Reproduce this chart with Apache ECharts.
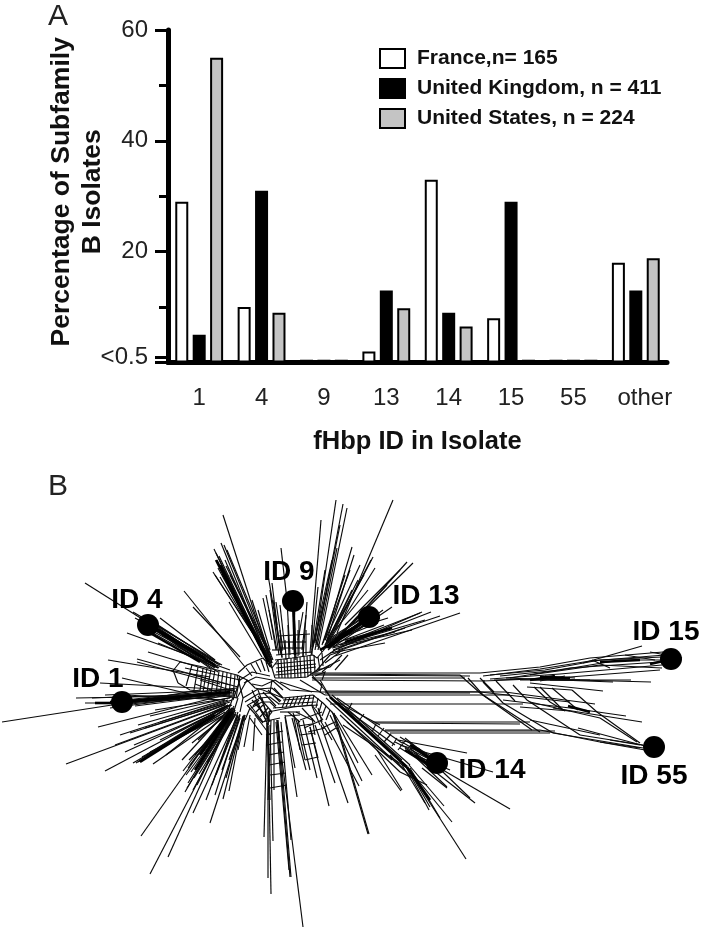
<!DOCTYPE html>
<html><head><meta charset="utf-8">
<style>html,body{margin:0;padding:0;background:#fff}#c{width:702px;height:930px}</style>
<script src="https://cdn.jsdelivr.net/npm/echarts@6/dist/echarts.min.js"></script>
</head><body><div id="c"></div>
<script>
const categories=['1','4','9','13','14','15','55','other'];
const france=[29,10,0.5,2,33,8,0.5,18];
const uk=[5,31,0.5,13,9,29,0.5,13];
const us=[55,9,0.5,9.8,6.5,0.5,0.5,18.8];
const seriesNames=['France,n= 165','United Kingdom, n = 411','United States, n = 224'];
const yLabelValues=[1,20,40,60];
const yMajorTicks=[0,1,20,40,60];
const yMinorTicks=[10,30,50];

const upperFan=[
[223,515,272,667],[214,549,270,667],[221,543,271,667],[224,545,272,663],[227,550,273,660],[213,572,268,657],[220,577,267,657],[216,553,269,660],[229,602,262,657],[252,600,272,663],[184,591,245,667],[193,607,240,657],[225,560,270,662],[218,568,268,660],[222,574,268,655],[219,556,270,664],[228,583,266,652],[217,560,266,655],[226,566,271,655],[230,575,272,660],[215,575,264,650],
[281,548,287,600],[268,575,282,657],[266,595,277,650],[272,583,280,650],[270,590,279,655],[276,602,283,650],[280,605,285,650],[287,600,290,655],[293,600,295,660],[294,600,296,660],[295,605,293,650],[307,602,303,657],[321,520,310,653],[336,500,315,643],[343,504,315,650],[347,508,318,650],[337,548,317,647],[318,587,312,647],[325,570,313,645],[306,615,302,650],[299,620,299,655],[273,600,277,625],[303,612,298,640],[340,525,316,645],[332,560,312,650],[327,590,311,655],[269,610,276,650],[274,612,281,655],[263,598,272,640],[258,610,270,650]
];
const id13Fan=[
[393,500,337,633],[352,547,325,640],[354,555,327,640],[373,557,328,643],[371,560,327,643],[360,565,325,640],[345,575,322,645],[350,570,323,643],[364,575,327,640],[407,562,337,640],[413,563,338,637],[387,585,340,635],[392,607,333,647],[420,613,333,647],[431,612,333,650],[422,612,333,651],[460,613,335,656],[412,630,332,648],[385,643,330,653],[370,617,325,645],[375,610,330,640],[380,618,330,643],[365,612,328,645],[372,620,327,648],[378,623,335,640],[360,625,330,645],[368,614,326,641],[373,616,329,646],[376,614,328,642],[366,622,326,648],[384,625,331,645],[362,620,328,650],[383,610,372,618],[388,618,375,622],[392,627,345,640],[395,632,340,645],[375,568,330,640],[358,580,325,645],[352,590,323,650],[400,570,345,625],[368,590,335,630],[425,620,340,645],[440,616,338,650],[405,628,335,652]
];
const id4Fan=[
[85,583,215,665],[127,633,230,670],[148,652,215,672],[108,660,210,677],[137,659,230,685],[137,662,220,684],[158,643,218,668],[133,612,215,660],[135,618,222,665],[140,620,215,668],[143,626,212,663],[148,625,218,668],[150,628,220,665],[152,622,216,662],[155,630,210,668],[160,618,215,660],[146,622,214,664],[151,632,214,667],[144,616,218,664],[157,627,219,668],[162,635,216,666],[170,640,218,672]
];
const id1Fan=[
[76,698,235,695],[92,698,235,693],[2,722,112,705],[112,705,232,692],[98,727,225,695],[66,764,225,705],[105,771,230,705],[134,745,230,705],[100,683,235,690],[112,702,235,690],[125,700,237,688],[122,703,232,696],[105,695,230,690],[110,708,232,692],[85,703,120,703],[125,695,225,700],[122,678,215,700],[135,702,230,693],[135,706,230,694],[130,704,215,696],[140,700,200,690],[150,716,232,697],[138,725,225,700],[155,710,230,698],[120,735,228,700],[145,728,230,702],[130,733,226,703],[160,722,232,700],[115,745,226,704],[125,752,228,705]
];
const lowerLeftFan=[
[133,763,225,710],[136,763,222,708],[138,762,228,705],[141,760,225,712],[153,764,228,712],[166,755,225,708],[160,740,230,705],[170,735,232,705],[158,748,228,708],[146,755,226,706],[142,757,220,715],[150,752,222,716],[183,771,232,708],[185,792,232,710],[188,783,233,712],[190,765,233,708],[186,775,231,715],[192,743,230,712],[195,755,232,712],[198,740,232,708],[200,765,234,712],[204,770,235,715],[193,790,234,714],[197,785,235,710],[189,760,229,718],[201,750,233,716],[207,762,236,712],[194,778,232,718],[187,788,232,716],[199,774,236,714],[203,758,233,710],[196,768,234,709],[191,772,233,711],[205,755,234,706],[209,745,234,708],[188,768,230,710],[182,760,230,708],
[141,836,230,710],[150,874,235,710],[168,857,232,715],[210,823,245,715],[193,813,238,715],[223,799,244,715],[229,791,243,718],[215,795,240,715],[212,785,238,712],[206,800,238,716],[222,770,240,718],[244,747,250,715],[253,751,255,718],[238,750,245,718],[229,760,245,715],[216,775,240,714],[226,778,243,716]
];
const lowerFan=[
[264,837,267,723],[268,878,268,723],[271,894,268,726],[273,841,270,725],[290,877,277,720],[291,877,278,720],[289,870,276,722],[303,927,277,720],[297,797,285,717],[295,768,285,715],[306,770,292,718],[329,806,310,727],[335,783,315,725],[348,803,321,725],[359,786,325,722],[362,781,330,715],[368,834,333,713],[369,834,334,713],[372,775,335,715],[358,763,332,712],[268,800,271,720],[274,790,274,720],[310,770,298,720],[300,750,294,718],[317,778,303,720],[267,723,270,800],[281,722,291,840],
[266,735,283,731],[267,745,282,742],[268,755,284,752],[269,765,285,762],[270,775,286,773],[270,788,287,785],[305,760,318,757],
[252,690,268,725],[258,690,270,722],[262,698,268,720],[255,700,266,720],[250,705,263,722],[296,712,312,720],[288,712,300,722],[302,708,315,722],[312,706,320,725],[318,708,322,722],
[297,723,305,760],[310,727,318,758],[320,720,332,740],[298,726,312,724],[300,735,315,733],[302,745,316,743],[270,710,268,725],[293,713,298,725],[322,728,335,722],[325,735,336,728]
];
const id14Fan=[
[330,697,407,767],[332,695,410,765],[326,698,404,770],[333,700,395,745],[345,709,402,760],[407,767,430,807],[405,765,429,810],[410,768,440,818],[408,768,452,822],[409,765,444,806],[402,765,425,803],[375,755,401,791],[390,755,412,778],[412,775,466,859],[395,742,437,763],[400,737,437,760],[402,742,440,765],[398,740,467,753],[400,745,493,772],[408,750,447,787],[410,752,475,803],[405,748,510,809],[415,755,450,770],[405,738,430,758],[410,748,435,770],[400,748,432,768],[420,750,470,798],[422,768,447,788],[412,745,437,762],[418,748,442,768],
[335,701,380,725],[340,715,400,772],[400,772,427,785],[377,750,402,790],[347,722,392,760],
[337,698,402,743],[343,725,407,768],
[352,703,347,712],[364,714,358,722],[376,724,372,732],[384,728,378,736],[391,734,384,742],[397,738,392,746],[405,741,398,750]
];
const rightBands=[
[312,673,480,673],[312,674,460,675],[312,675,470,676],[312,678,465,678],[312,680,485,681],[320,692,480,692],[325,691,505,692],[325,695,510,695],[330,704,523,704],[372,722,530,722],[375,723,520,724],[385,730,540,730],[385,731,555,731],[390,733,550,733],[325,693,470,693],
[460,675,480,693,532,730],[468,678,483,695,540,732],[483,682,503,703,553,733],[513,685,527,700,580,735],[534,687,550,702,565,711],[540,687,563,710],[552,688,578,710],[572,690,597,712,640,743],[480,678,494,692],[496,681,515,701],
[480,673,540,667,590,658,663,652],[483,676,540,669,590,661,665,655],[490,675,545,670,600,660,662,657],[500,676,560,670,620,660,665,660],[583,663,642,646],[483,681,557,678,660,670],[490,679,560,674,662,665],[510,678,570,668,660,662],[530,675,600,665,662,668],[650,652,682,658],[506,678,613,682],[520,680,631,680],[540,679,651,682],[530,683,603,691],[530,680,590,680],[540,678,570,679],[545,676,575,678],[550,680,580,680],[540,681,565,676],[494,680,560,678],[592,660,610,668],[625,655,655,660],
[503,700,570,708,626,716],[553,708,642,722],[530,702,600,718],[553,733,643,748],[580,735,643,745],[600,718,637,742],[578,728,645,746],[540,730,600,742,645,750],[600,742,640,748],[610,740,640,745],[480,692,570,702],[505,692,595,704],[520,707,570,711],[530,720,600,735],[527,687,572,690]
];
const coreMesh=[
// left band edges
[180,662,217,670,237,675],[178,683,190,690,213,693,237,698],[185,668,240,680],[190,674,238,687],[200,680,236,692],[195,684,225,695],[237,675,247,680,237,698],[173,670,178,683],[180,662,172,672],
// left band rungs
[192,665,186,686],[198,667,194,690],[203,668,200,691],[207,668,203,692],[211,669,207,692],[215,670,211,693],[219,671,216,694],[223,672,220,695],[227,673,225,695],[231,674,229,696],[235,675,233,697],[240,676,236,698],
// hub left block
[238,673,247,665,263,658,272,668],[240,680,252,672,270,676],[244,683,256,677,272,680],[246,668,252,676],[251,664,257,674],[256,662,261,672],[261,660,265,671],[266,662,269,672],[247,680,255,688,263,690],[252,684,262,686,275,680],
// top block
[275,660,292,658,313,655,317,658,328,645],[275,678,292,678,307,677,317,670,330,655],[275,664,315,660],[276,668,316,664],[276,672,316,667],[275,675,312,672],
[278,660,279,678],[281,659,282,678],[284,659,285,678],[287,659,288,678],[291,658,291,678],[294,658,295,678],[297,657,298,678],[300,657,301,678],[304,656,305,678],[307,656,308,677],[310,655,311,676],[314,655,315,673],[318,657,320,670],[322,653,323,666],
[285,640,286,660],[295,640,295,658],[303,640,303,657],[280,648,304,648],[278,642,306,642],[312,625,312,655],[272,668,278,660],[272,668,275,678],[272,650,283,650],
[280,630,282,658],[288,625,289,658],[298,630,298,656],[306,630,306,655],[276,655,312,652],[279,636,310,634],[316,640,322,652],
// right of top block
[317,670,330,667,342,655],[330,655,345,650],[322,672,330,665],[315,676,325,672,322,680],[320,660,335,650],[325,663,340,652],[335,670,348,655],[316,672,340,660],
// hub lower-centre block
[243,698,258,689,272,688,283,698],[245,702,258,694,270,693,281,701],[248,705,260,698,270,697,279,704],[251,708,262,702,270,702,276,708],[247,705,263,723],[252,700,268,718],[258,696,272,712],[263,692,276,706],[268,690,280,702],[274,688,283,698],[243,698,240,712],[250,708,245,720],
[256,712,263,705],[260,717,268,708],[264,722,272,712],[253,706,259,700],[268,712,268,723],[262,722,280,718],[255,715,270,735],[250,718,262,735],
// lower-right block
[283,698,313,695,323,703,333,713],[268,712,293,707,312,705,323,720],[283,700,314,698],[278,704,316,702],[273,708,318,705],[286,698,282,708],[290,697,286,707],[294,697,290,706],[298,696,294,706],[302,696,298,705],[306,695,302,705],[310,695,307,705],[314,695,312,705],[318,698,316,708],[322,702,319,712],[326,706,322,716],[330,710,326,720],
[280,712,300,712],[285,716,300,715],[300,720,322,712],[304,728,322,720],[308,732,325,728],[312,718,315,735],
// crossing strands in the hub
[237,675,243,698],[240,680,233,700],[233,697,228,712],[238,698,233,714],[263,690,283,698],[272,680,283,690],[272,680,270,693],[280,682,312,692],[275,680,290,690,320,692],[312,677,322,685,320,692],[320,680,330,697],[312,675,330,696],[300,680,325,695]
];
// Heavy bundles of overlapping strands
const heavyBundles=[
[148,625,215,665],[145,630,200,662],[152,626,205,658],
[122,702,230,692],[110,702,180,698],[95,703,125,703],
[369,617,328,648],[375,614,340,636],[362,622,335,640],[392,628,345,642],
[293,600,295,655],[220,565,268,662],[216,560,262,650],
[330,697,407,767],[407,767,430,800],[410,745,437,763],[405,750,430,765],
[195,770,232,712],[200,755,230,712],[140,762,215,715],
[540,677,570,678],[530,680,555,676],[650,664,668,660],[600,662,640,660],
[568,706,590,712],[320,650,350,632]
];

const nodePoints=[[122,702],[148,625],[293,601],[369,617],[671,659],[654,747],[437,763]];
const nodeNames=['ID 1','ID 4','ID 9','ID 13','ID 15','ID 55','ID 14'];
const nodeLabelAnchors=[[98,679],[137,600],[289,572],[426,596],[666,632],[654,776],[492,770]];

const toLine=p=>{const coords=[];for(let i=0;i<p.length;i+=2)coords.push([p[i],p[i+1]]);return {coords};};
const net=[].concat(upperFan,id13Fan,id4Fan,id1Fan,lowerLeftFan,lowerFan,id14Fan,rightBands,coreMesh).map(toLine);

const fontSans='"Liberation Sans",Arial,sans-serif';
const barSeries=(name,data,color)=>({type:'bar',name,data,xAxisIndex:0,yAxisIndex:0,barWidth:13,barGap:'34%',
  itemStyle:{color,borderColor:'#000',borderWidth:2}});

const chart=echarts.init(document.getElementById('c'),null,{renderer:'canvas'});
chart.setOption({
  animation:false,backgroundColor:'#fff',
  grid:[{left:168,top:30,width:499,height:332.5},{left:0,top:0,width:702,height:930}],
  legend:{left:374,top:43,orient:'vertical',itemWidth:25,itemHeight:19,itemGap:9,icon:'rect',
    data:seriesNames,textStyle:{fontFamily:fontSans,fontWeight:'bold',fontSize:21,lineHeight:19,color:'#111',padding:[0,0,0,7]}},
  xAxis:[
   {type:'category',gridIndex:0,data:categories,
    axisLine:{lineStyle:{color:'#000',width:5}},
    axisTick:{alignWithLabel:true,length:14,lineStyle:{color:'#000',width:4}},
    axisLabel:{fontFamily:fontSans,fontSize:24,color:'#222',margin:24,interval:0,
      formatter:v=>v==='other'?'{o|other}':v,rich:{o:{fontFamily:fontSans,fontSize:24,color:'#222',padding:[0,0,0,18]}}},
    name:'fHbp ID in Isolate',nameLocation:'middle',nameGap:66,nameMoveOverlap:false,
    nameTextStyle:{fontFamily:fontSans,fontWeight:'bold',fontSize:25.5,color:'#111'}},
   {type:'value',gridIndex:1,min:0,max:702,show:false}
  ],
  yAxis:[
   {type:'value',gridIndex:0,min:0,max:60,
    axisLine:{show:true,onZero:false,lineStyle:{color:'#000',width:5}},
    axisTick:{show:true,length:13,customValues:yMajorTicks,lineStyle:{color:'#000',width:3}},
    axisLabel:{fontFamily:fontSans,fontSize:24,color:'#222',margin:20,customValues:yLabelValues,
      formatter:v=>v===1?'<0.5':String(v)},
    splitLine:{show:false},
    name:'Percentage of Subfamily\nB Isolates',nameLocation:'middle',nameGap:60,nameRotate:90,nameMoveOverlap:false,
    nameTextStyle:{fontFamily:fontSans,fontWeight:'bold',fontSize:26.5,color:'#111',lineHeight:31,padding:[0,0,0,9]}},
   {type:'value',gridIndex:0,min:0,max:60,position:'left',
    axisLine:{show:false},axisLabel:{show:false},splitLine:{show:false},
    axisTick:{show:true,length:9,customValues:yMinorTicks,lineStyle:{color:'#000',width:3}}},
   {type:'value',gridIndex:1,min:0,max:930,inverse:true,show:false}
  ],
  graphic:[
   {type:'text',left:48,top:2,style:{text:'A',font:'30px '+fontSans,fill:'#222'}},
   {type:'text',left:48,top:472,style:{text:'B',font:'30px '+fontSans,fill:'#222'}}
  ],
  series:[
   barSeries(seriesNames[0],france,'#fff'),
   barSeries(seriesNames[1],uk,'#000'),
   barSeries(seriesNames[2],us,'#c4c4c4'),
   {type:'lines',coordinateSystem:'cartesian2d',xAxisIndex:1,yAxisIndex:2,polyline:true,silent:true,z:3,
    lineStyle:{color:'#0a0a0a',width:1.15,opacity:1},data:net},
   {type:'lines',coordinateSystem:'cartesian2d',xAxisIndex:1,yAxisIndex:2,polyline:true,silent:true,z:3,
    lineStyle:{color:'#000',width:2.6,opacity:1},data:heavyBundles.map(toLine)},
   {type:'scatter',xAxisIndex:1,yAxisIndex:2,symbol:'circle',symbolSize:22,z:4,silent:true,
    itemStyle:{color:'#000',opacity:1},data:nodePoints},
   {type:'scatter',xAxisIndex:1,yAxisIndex:2,symbolSize:0,z:5,silent:true,itemStyle:{opacity:1},
    data:nodeLabelAnchors.map((c,i)=>({value:c,name:nodeNames[i]})),
    label:{show:true,position:'inside',formatter:'{b}',fontFamily:fontSans,fontWeight:'bold',fontSize:28,color:'#000',opacity:1}}
  ]
});
</script></body></html>
